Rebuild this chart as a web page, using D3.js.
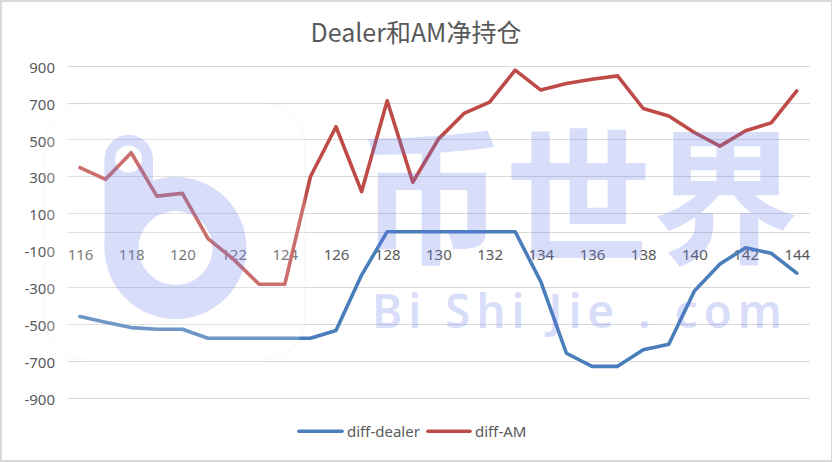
<!DOCTYPE html>
<html><head><meta charset="utf-8">
<script src="https://cdn.jsdelivr.net/npm/d3@7"></script>
<style>html,body{margin:0;padding:0;background:#fff}svg{display:block}</style>
</head><body>
<script>
const categories = [116,117,118,119,120,121,122,123,124,125,126,127,128,129,130,131,132,133,134,135,136,137,138,139,140,141,142,143,144];
const dealer = [-460,-491,-520,-529,-529,-578,-578,-578,-578,-578,-536,-235,0,0,0,0,0,0,-271,-659,-730,-730,-640,-610,-321,-175,-87,-117,-225];
const am = [347,284,428,193,208,-38,-150,-285,-285,298,569,217,710,268,502,641,703,876,768,804,827,845,668,627,538,464,547,590,764];
const yTicks = [-900,-700,-500,-300,-100,100,300,500,700,900];
const xLabels = [116,118,120,122,124,126,128,130,132,134,136,138,140,142,144];
const seriesNames = ["diff-dealer","diff-AM"];
const colors = ["#4a7ebb","#be4b48"];
const title = "Dealer和AM净持仓";

const W = 832, H = 462;
const svg = d3.select("body").append("svg").attr("width", W).attr("height", H);
svg.append("rect").attr("width", W).attr("height", H).attr("fill", "#d9d9d9");
svg.append("rect").attr("x", 2).attr("y", 2).attr("width", 829).attr("height", 458).attr("fill", "#fff");

const x = d3.scalePoint().domain(categories).range([67.2, 809.6]).padding(0.5);
const y = d3.scaleLinear().domain([-900, 900]).range([397.7, 65.7]);
const font = "'Noto Sans', 'Noto Sans CJK SC', sans-serif";

svg.append("text").attr("x", 416).attr("y", 42).attr("text-anchor", "middle")
  .attr("font-family", "'Noto Sans CJK SC', 'Noto Sans', sans-serif").attr("font-size", 25)
  .attr("fill", "#595959").text(title);

// gridlines
svg.append("g").selectAll("line").data(yTicks.filter(d => d !== -100)).join("line")
  .attr("x1", 67.2).attr("x2", 809.6)
  .attr("y1", d => Math.round(y(d)) + 0.5).attr("y2", d => Math.round(y(d)) + 0.5)
  .attr("stroke", "#d9d9d9").attr("stroke-width", 1);
svg.append("line").attr("x1", 67.2).attr("x2", 809.6)
  .attr("y1", Math.round(y(0)) + 0.5).attr("y2", Math.round(y(0)) + 0.5)
  .attr("stroke", "#d9d9d9");

// y axis
const ya = svg.append("g").attr("transform", "translate(58,0)")
  .call(d3.axisLeft(y).tickValues(yTicks).tickSize(0).tickPadding(3).tickFormat(d => String(d)));
ya.select(".domain").remove();
ya.selectAll("text").attr("font-family", font).attr("font-size", 15).attr("fill", "#595959").attr("dy", "0.44em");

// x axis
const xa = svg.append("g").attr("transform", `translate(0,${y(0)})`)
  .call(d3.axisBottom(x).tickValues(xLabels).tickSize(0));
xa.select(".domain").remove();
xa.selectAll("text").attr("font-family", font).attr("font-size", 15).attr("fill", "#595959")
  .attr("y", 28.3).attr("dy", 0);

// lines
const line = d3.line().x((d, i) => x(categories[i])).y(d => y(d));
[dealer, am].forEach((s, k) => {
  svg.append("path").datum(s).attr("d", line).attr("fill", "none")
    .attr("stroke", colors[k]).attr("stroke-width", 3.6)
    .attr("stroke-linejoin", "round").attr("stroke-linecap", "round");
});

// legend
const lg = svg.append("g");
const legendPos = [[299, 342, 347], [428, 470, 475]];
seriesNames.forEach((n, k) => {
  const p = legendPos[k];
  lg.append("line").attr("x1", p[0]).attr("x2", p[1]).attr("y1", 431.3).attr("y2", 431.3)
    .attr("stroke", colors[k]).attr("stroke-width", 3.6).attr("stroke-linecap", "round");
  lg.append("text").attr("x", p[2]).attr("y", 437).attr("font-family", font).attr("font-size", 15)
    .attr("fill", "#595959").text(n);
});

// watermark
const wm = svg.append("g").attr("pointer-events", "none");
wm.append("rect").attr("x", 45).attr("y", 103).attr("width", 260).attr("height", 257).attr("rx", 42)
  .attr("fill", "#fff").attr("fill-opacity", 0.2).attr("stroke", "#000").attr("stroke-opacity", 0.035);
const defs = svg.append("defs");
const mask = defs.append("mask").attr("id", "logoMask");
mask.append("rect").attr("x", 0).attr("y", 0).attr("width", W).attr("height", H).attr("fill", "#000");
mask.append("circle").attr("cx", 175.5).attr("cy", 248).attr("r", 71).attr("fill", "#fff");
mask.append("rect").attr("x", 104.5).attr("y", 159).attr("width", 48.5).attr("height", 90).attr("fill", "#fff");
mask.append("circle").attr("cx", 128.7).attr("cy", 159).attr("r", 24.2).attr("fill", "#fff");
mask.append("circle").attr("cx", 175.5).attr("cy", 248).attr("r", 37).attr("fill", "#000");
mask.append("circle").attr("cx", 128.5).attr("cy", 159).attr("r", 13.5).attr("fill", "#000");
wm.append("rect").attr("x", 0).attr("y", 0).attr("width", W).attr("height", H)
  .attr("fill", "rgb(100,120,235)").attr("fill-opacity", 0.25).attr("mask", "url(#logoMask)");
wm.append("text").attr("x", 358).attr("y", 252).attr("font-family", "'Noto Sans CJK SC', sans-serif")
  .attr("font-weight", 700).attr("font-size", 147)
  .attr("fill", "rgb(100,120,235)").attr("fill-opacity", 0.25).text("币世界");
wm.append("text").attr("x", 372).attr("y", 328).attr("font-family", "'Noto Sans', sans-serif")
  .attr("font-weight", 600).attr("font-size", 46).attr("textLength", 410).attr("lengthAdjust", "spacing")
  .attr("fill", "rgb(100,120,235)").attr("fill-opacity", 0.25).text("Bi Shi Jie . com");
</script>
</body></html>
